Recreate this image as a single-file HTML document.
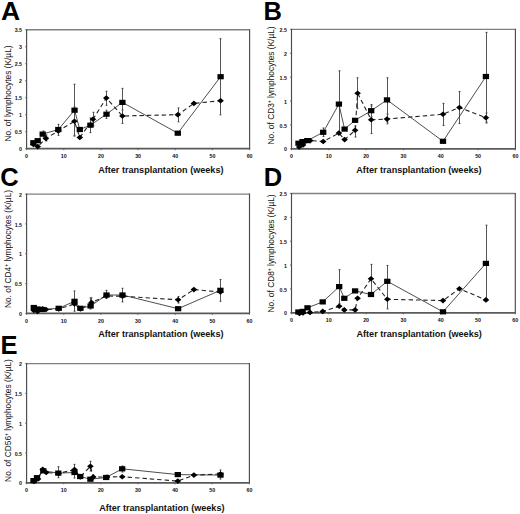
<!DOCTYPE html><html><head><meta charset="utf-8"><style>html,body{margin:0;padding:0;background:#fff;}svg{display:block;}text{font-family:"Liberation Sans", sans-serif;}</style></head><body>
<svg width="520" height="514" viewBox="0 0 520 514">
<rect width="520" height="514" fill="#fff"/>
<line x1="26.6" y1="29.8" x2="249.6" y2="29.8" stroke="#808080" stroke-width="1.4"/>
<line x1="26.6" y1="29.2" x2="26.6" y2="148.7" stroke="#4a4a4a" stroke-width="1.15"/>
<line x1="249.6" y1="29.2" x2="249.6" y2="148.7" stroke="#4a4a4a" stroke-width="1.15"/>
<line x1="26" y1="148.7" x2="250.2" y2="148.7" stroke="#5a5a5a" stroke-width="1.8"/>
<text x="22" y="151.3" font-size="5.3" font-weight="bold" text-anchor="end" fill="#111">0</text>
<line x1="25.1" y1="148.7" x2="26.6" y2="148.7" stroke="#555" stroke-width="0.8"/>
<text x="22" y="134.31" font-size="5.3" font-weight="bold" text-anchor="end" fill="#111">0.5</text>
<line x1="25.1" y1="131.71" x2="26.6" y2="131.71" stroke="#555" stroke-width="0.8"/>
<text x="22" y="117.33" font-size="5.3" font-weight="bold" text-anchor="end" fill="#111">1</text>
<line x1="25.1" y1="114.73" x2="26.6" y2="114.73" stroke="#555" stroke-width="0.8"/>
<text x="22" y="100.34" font-size="5.3" font-weight="bold" text-anchor="end" fill="#111">1.5</text>
<line x1="25.1" y1="97.74" x2="26.6" y2="97.74" stroke="#555" stroke-width="0.8"/>
<text x="22" y="83.36" font-size="5.3" font-weight="bold" text-anchor="end" fill="#111">2</text>
<line x1="25.1" y1="80.76" x2="26.6" y2="80.76" stroke="#555" stroke-width="0.8"/>
<text x="22" y="66.37" font-size="5.3" font-weight="bold" text-anchor="end" fill="#111">2.5</text>
<line x1="25.1" y1="63.77" x2="26.6" y2="63.77" stroke="#555" stroke-width="0.8"/>
<text x="22" y="49.39" font-size="5.3" font-weight="bold" text-anchor="end" fill="#111">3</text>
<line x1="25.1" y1="46.79" x2="26.6" y2="46.79" stroke="#555" stroke-width="0.8"/>
<text x="22" y="32.4" font-size="5.3" font-weight="bold" text-anchor="end" fill="#111">3.5</text>
<line x1="25.1" y1="29.8" x2="26.6" y2="29.8" stroke="#555" stroke-width="0.8"/>
<text x="26.6" y="157.8" font-size="5.3" font-weight="bold" text-anchor="middle" fill="#111">0</text>
<line x1="26.6" y1="148.7" x2="26.6" y2="150.2" stroke="#555" stroke-width="0.8"/>
<text x="63.77" y="157.8" font-size="5.3" font-weight="bold" text-anchor="middle" fill="#111">10</text>
<line x1="63.77" y1="148.7" x2="63.77" y2="150.2" stroke="#555" stroke-width="0.8"/>
<text x="100.93" y="157.8" font-size="5.3" font-weight="bold" text-anchor="middle" fill="#111">20</text>
<line x1="100.93" y1="148.7" x2="100.93" y2="150.2" stroke="#555" stroke-width="0.8"/>
<text x="138.1" y="157.8" font-size="5.3" font-weight="bold" text-anchor="middle" fill="#111">30</text>
<line x1="138.1" y1="148.7" x2="138.1" y2="150.2" stroke="#555" stroke-width="0.8"/>
<text x="175.27" y="157.8" font-size="5.3" font-weight="bold" text-anchor="middle" fill="#111">40</text>
<line x1="175.27" y1="148.7" x2="175.27" y2="150.2" stroke="#555" stroke-width="0.8"/>
<text x="212.43" y="157.8" font-size="5.3" font-weight="bold" text-anchor="middle" fill="#111">50</text>
<line x1="212.43" y1="148.7" x2="212.43" y2="150.2" stroke="#555" stroke-width="0.8"/>
<text x="249.6" y="157.8" font-size="5.3" font-weight="bold" text-anchor="middle" fill="#111">60</text>
<line x1="249.6" y1="148.7" x2="249.6" y2="150.2" stroke="#555" stroke-width="0.8"/>
<text x="98.2" y="172.8" font-size="9.1" font-weight="bold" fill="#111">After transplantation (weeks)</text>
<text transform="translate(10.6 93.5) rotate(-90)" x="0" y="0" font-size="8.35" text-anchor="middle" fill="#111">No. of lymphocytes (K/µL)</text>
<text transform="translate(1 19.5) scale(1.04 1)" font-size="25.5" font-weight="bold" fill="#000">A</text>
<line x1="58.5" y1="124.4" x2="58.5" y2="135.3" stroke="#555" stroke-width="1"/>
<line x1="57.6" y1="124.4" x2="59.4" y2="124.4" stroke="#444" stroke-width="1.1"/>
<line x1="57.6" y1="135.3" x2="59.4" y2="135.3" stroke="#444" stroke-width="1.1"/>
<line x1="74.5" y1="84.3" x2="74.5" y2="136.1" stroke="#555" stroke-width="1"/>
<line x1="73.6" y1="84.3" x2="75.4" y2="84.3" stroke="#444" stroke-width="1.1"/>
<line x1="73.6" y1="136.1" x2="75.4" y2="136.1" stroke="#444" stroke-width="1.1"/>
<line x1="74.5" y1="107" x2="74.5" y2="135.3" stroke="#555" stroke-width="1"/>
<line x1="73.6" y1="107" x2="75.4" y2="107" stroke="#444" stroke-width="1.1"/>
<line x1="73.6" y1="135.3" x2="75.4" y2="135.3" stroke="#444" stroke-width="1.1"/>
<line x1="90.5" y1="118" x2="90.5" y2="132.6" stroke="#555" stroke-width="1"/>
<line x1="89.6" y1="118" x2="91.4" y2="118" stroke="#444" stroke-width="1.1"/>
<line x1="89.6" y1="132.6" x2="91.4" y2="132.6" stroke="#444" stroke-width="1.1"/>
<line x1="93.5" y1="112.3" x2="93.5" y2="126" stroke="#555" stroke-width="1"/>
<line x1="92.6" y1="112.3" x2="94.4" y2="112.3" stroke="#444" stroke-width="1.1"/>
<line x1="92.6" y1="126" x2="94.4" y2="126" stroke="#444" stroke-width="1.1"/>
<line x1="106.5" y1="91.3" x2="106.5" y2="105.3" stroke="#555" stroke-width="1"/>
<line x1="105.6" y1="91.3" x2="107.4" y2="91.3" stroke="#444" stroke-width="1.1"/>
<line x1="105.6" y1="105.3" x2="107.4" y2="105.3" stroke="#444" stroke-width="1.1"/>
<line x1="106.5" y1="110.2" x2="106.5" y2="118.3" stroke="#555" stroke-width="1"/>
<line x1="105.6" y1="110.2" x2="107.4" y2="110.2" stroke="#444" stroke-width="1.1"/>
<line x1="105.6" y1="118.3" x2="107.4" y2="118.3" stroke="#444" stroke-width="1.1"/>
<line x1="122.5" y1="88.4" x2="122.5" y2="116.4" stroke="#555" stroke-width="1"/>
<line x1="121.6" y1="88.4" x2="123.4" y2="88.4" stroke="#444" stroke-width="1.1"/>
<line x1="121.6" y1="116.4" x2="123.4" y2="116.4" stroke="#444" stroke-width="1.1"/>
<line x1="122.5" y1="110" x2="122.5" y2="123.4" stroke="#555" stroke-width="1"/>
<line x1="121.6" y1="110" x2="123.4" y2="110" stroke="#444" stroke-width="1.1"/>
<line x1="121.6" y1="123.4" x2="123.4" y2="123.4" stroke="#444" stroke-width="1.1"/>
<line x1="178.5" y1="108" x2="178.5" y2="121.8" stroke="#555" stroke-width="1"/>
<line x1="177.6" y1="108" x2="179.4" y2="108" stroke="#444" stroke-width="1.1"/>
<line x1="177.6" y1="121.8" x2="179.4" y2="121.8" stroke="#444" stroke-width="1.1"/>
<line x1="220.5" y1="38.7" x2="220.5" y2="114.8" stroke="#555" stroke-width="1"/>
<line x1="219.6" y1="38.7" x2="221.4" y2="38.7" stroke="#444" stroke-width="1.1"/>
<line x1="219.6" y1="114.8" x2="221.4" y2="114.8" stroke="#444" stroke-width="1.1"/>
<line x1="43.5" y1="131" x2="43.5" y2="137" stroke="#555" stroke-width="1"/>
<line x1="42.6" y1="131" x2="44.4" y2="131" stroke="#444" stroke-width="1.1"/>
<line x1="42.6" y1="137" x2="44.4" y2="137" stroke="#444" stroke-width="1.1"/>
<line x1="46.5" y1="135" x2="46.5" y2="141" stroke="#555" stroke-width="1"/>
<line x1="45.6" y1="135" x2="47.4" y2="135" stroke="#444" stroke-width="1.1"/>
<line x1="45.6" y1="141" x2="47.4" y2="141" stroke="#444" stroke-width="1.1"/>
<polyline points="33.4,142.7 37.7,140.7 42.7,134.1 58.3,129.5 74.55,110.2 79.8,129.5 90.4,125.2 106.5,114.2 122.4,102.4 177.8,133.2 220.6,76.7" fill="none" stroke="#3a3a3a" stroke-width="0.9"/>
<polyline points="33.4,144.5 37.7,146.6 45.8,138.4 58.3,131 74.4,121.3 79.8,137.4 93,119.3 106.3,98 122.4,116 177.8,114.7 193.9,103.4 220.6,100.7" fill="none" stroke="#222" stroke-width="1.1" stroke-dasharray="4.4 3"/>
<path d="M33.4 141.7L36.7 144.5L33.4 147.3L30.1 144.5Z" fill="#000"/>
<path d="M37.7 143.8L41 146.6L37.7 149.4L34.4 146.6Z" fill="#000"/>
<path d="M45.8 135.6L49.1 138.4L45.8 141.2L42.5 138.4Z" fill="#000"/>
<path d="M58.3 128.2L61.6 131L58.3 133.8L55 131Z" fill="#000"/>
<path d="M74.4 118.5L77.7 121.3L74.4 124.1L71.1 121.3Z" fill="#000"/>
<path d="M79.8 134.6L83.1 137.4L79.8 140.2L76.5 137.4Z" fill="#000"/>
<path d="M93 116.5L96.3 119.3L93 122.1L89.7 119.3Z" fill="#000"/>
<path d="M106.3 95.2L109.6 98L106.3 100.8L103 98Z" fill="#000"/>
<path d="M122.4 113.2L125.7 116L122.4 118.8L119.1 116Z" fill="#000"/>
<path d="M177.8 111.9L181.1 114.7L177.8 117.5L174.5 114.7Z" fill="#000"/>
<path d="M193.9 100.6L197.2 103.4L193.9 106.2L190.6 103.4Z" fill="#000"/>
<path d="M220.6 97.9L223.9 100.7L220.6 103.5L217.3 100.7Z" fill="#000"/>
<rect x="30.25" y="140.1" width="6.3" height="5.2" fill="#000"/>
<rect x="34.55" y="138.1" width="6.3" height="5.2" fill="#000"/>
<rect x="39.55" y="131.5" width="6.3" height="5.2" fill="#000"/>
<rect x="55.15" y="126.9" width="6.3" height="5.2" fill="#000"/>
<rect x="71.4" y="107.6" width="6.3" height="5.2" fill="#000"/>
<rect x="76.65" y="126.9" width="6.3" height="5.2" fill="#000"/>
<rect x="87.25" y="122.6" width="6.3" height="5.2" fill="#000"/>
<rect x="103.35" y="111.6" width="6.3" height="5.2" fill="#000"/>
<rect x="119.25" y="99.8" width="6.3" height="5.2" fill="#000"/>
<rect x="174.65" y="130.6" width="6.3" height="5.2" fill="#000"/>
<rect x="217.45" y="74.1" width="6.3" height="5.2" fill="#000"/>
<line x1="291.5" y1="29.4" x2="515.4" y2="29.4" stroke="#808080" stroke-width="1.4"/>
<line x1="291.5" y1="28.8" x2="291.5" y2="148.8" stroke="#4a4a4a" stroke-width="1.15"/>
<line x1="515.4" y1="28.8" x2="515.4" y2="148.8" stroke="#4a4a4a" stroke-width="1.15"/>
<line x1="290.9" y1="148.8" x2="516" y2="148.8" stroke="#5a5a5a" stroke-width="1.8"/>
<text x="286.9" y="151.4" font-size="5.3" font-weight="bold" text-anchor="end" fill="#111">0</text>
<line x1="290" y1="148.8" x2="291.5" y2="148.8" stroke="#555" stroke-width="0.8"/>
<text x="286.9" y="127.52" font-size="5.3" font-weight="bold" text-anchor="end" fill="#111">0.5</text>
<line x1="290" y1="124.92" x2="291.5" y2="124.92" stroke="#555" stroke-width="0.8"/>
<text x="286.9" y="103.64" font-size="5.3" font-weight="bold" text-anchor="end" fill="#111">1</text>
<line x1="290" y1="101.04" x2="291.5" y2="101.04" stroke="#555" stroke-width="0.8"/>
<text x="286.9" y="79.76" font-size="5.3" font-weight="bold" text-anchor="end" fill="#111">1.5</text>
<line x1="290" y1="77.16" x2="291.5" y2="77.16" stroke="#555" stroke-width="0.8"/>
<text x="286.9" y="55.88" font-size="5.3" font-weight="bold" text-anchor="end" fill="#111">2</text>
<line x1="290" y1="53.28" x2="291.5" y2="53.28" stroke="#555" stroke-width="0.8"/>
<text x="286.9" y="32" font-size="5.3" font-weight="bold" text-anchor="end" fill="#111">2.5</text>
<line x1="290" y1="29.4" x2="291.5" y2="29.4" stroke="#555" stroke-width="0.8"/>
<text x="291.5" y="157.9" font-size="5.3" font-weight="bold" text-anchor="middle" fill="#111">0</text>
<line x1="291.5" y1="148.8" x2="291.5" y2="150.3" stroke="#555" stroke-width="0.8"/>
<text x="328.82" y="157.9" font-size="5.3" font-weight="bold" text-anchor="middle" fill="#111">10</text>
<line x1="328.82" y1="148.8" x2="328.82" y2="150.3" stroke="#555" stroke-width="0.8"/>
<text x="366.13" y="157.9" font-size="5.3" font-weight="bold" text-anchor="middle" fill="#111">20</text>
<line x1="366.13" y1="148.8" x2="366.13" y2="150.3" stroke="#555" stroke-width="0.8"/>
<text x="403.45" y="157.9" font-size="5.3" font-weight="bold" text-anchor="middle" fill="#111">30</text>
<line x1="403.45" y1="148.8" x2="403.45" y2="150.3" stroke="#555" stroke-width="0.8"/>
<text x="440.77" y="157.9" font-size="5.3" font-weight="bold" text-anchor="middle" fill="#111">40</text>
<line x1="440.77" y1="148.8" x2="440.77" y2="150.3" stroke="#555" stroke-width="0.8"/>
<text x="478.08" y="157.9" font-size="5.3" font-weight="bold" text-anchor="middle" fill="#111">50</text>
<line x1="478.08" y1="148.8" x2="478.08" y2="150.3" stroke="#555" stroke-width="0.8"/>
<text x="515.4" y="157.9" font-size="5.3" font-weight="bold" text-anchor="middle" fill="#111">60</text>
<line x1="515.4" y1="148.8" x2="515.4" y2="150.3" stroke="#555" stroke-width="0.8"/>
<text x="356.3" y="172.8" font-size="9.1" font-weight="bold" fill="#111">After transplantation (weeks)</text>
<text transform="translate(273.6 85.4) rotate(-90)" x="0" y="0" font-size="8.35" text-anchor="middle" fill="#111">No. of CD3<tspan font-size="5" dy="-3">+</tspan><tspan dy="3"> lymphocytes (K/µL)</tspan></text>
<text transform="translate(263.5 19.5) scale(1.0 1)" font-size="25.5" font-weight="bold" fill="#000">B</text>
<line x1="323.5" y1="128" x2="323.5" y2="136.5" stroke="#555" stroke-width="1"/>
<line x1="322.6" y1="128" x2="324.4" y2="128" stroke="#444" stroke-width="1.1"/>
<line x1="322.6" y1="136.5" x2="324.4" y2="136.5" stroke="#444" stroke-width="1.1"/>
<line x1="339.5" y1="70.8" x2="339.5" y2="133.5" stroke="#555" stroke-width="1"/>
<line x1="338.6" y1="70.8" x2="340.4" y2="70.8" stroke="#444" stroke-width="1.1"/>
<line x1="338.6" y1="133.5" x2="340.4" y2="133.5" stroke="#444" stroke-width="1.1"/>
<line x1="355.5" y1="126" x2="355.5" y2="137" stroke="#555" stroke-width="1"/>
<line x1="354.6" y1="126" x2="356.4" y2="126" stroke="#444" stroke-width="1.1"/>
<line x1="354.6" y1="137" x2="356.4" y2="137" stroke="#444" stroke-width="1.1"/>
<line x1="357.5" y1="77.8" x2="357.5" y2="108.6" stroke="#555" stroke-width="1"/>
<line x1="356.6" y1="77.8" x2="358.4" y2="77.8" stroke="#444" stroke-width="1.1"/>
<line x1="356.6" y1="108.6" x2="358.4" y2="108.6" stroke="#444" stroke-width="1.1"/>
<line x1="371.5" y1="104.6" x2="371.5" y2="116.8" stroke="#555" stroke-width="1"/>
<line x1="370.6" y1="104.6" x2="372.4" y2="104.6" stroke="#444" stroke-width="1.1"/>
<line x1="370.6" y1="116.8" x2="372.4" y2="116.8" stroke="#444" stroke-width="1.1"/>
<line x1="371.5" y1="106" x2="371.5" y2="133.5" stroke="#555" stroke-width="1"/>
<line x1="370.6" y1="106" x2="372.4" y2="106" stroke="#444" stroke-width="1.1"/>
<line x1="370.6" y1="133.5" x2="372.4" y2="133.5" stroke="#444" stroke-width="1.1"/>
<line x1="387.5" y1="77.8" x2="387.5" y2="122" stroke="#555" stroke-width="1"/>
<line x1="386.6" y1="77.8" x2="388.4" y2="77.8" stroke="#444" stroke-width="1.1"/>
<line x1="386.6" y1="122" x2="388.4" y2="122" stroke="#444" stroke-width="1.1"/>
<line x1="387.5" y1="114" x2="387.5" y2="123.8" stroke="#555" stroke-width="1"/>
<line x1="386.6" y1="114" x2="388.4" y2="114" stroke="#444" stroke-width="1.1"/>
<line x1="386.6" y1="123.8" x2="388.4" y2="123.8" stroke="#444" stroke-width="1.1"/>
<line x1="443.5" y1="103.4" x2="443.5" y2="125.4" stroke="#555" stroke-width="1"/>
<line x1="442.6" y1="103.4" x2="444.4" y2="103.4" stroke="#444" stroke-width="1.1"/>
<line x1="442.6" y1="125.4" x2="444.4" y2="125.4" stroke="#444" stroke-width="1.1"/>
<line x1="459.5" y1="91.5" x2="459.5" y2="123.5" stroke="#555" stroke-width="1"/>
<line x1="458.6" y1="91.5" x2="460.4" y2="91.5" stroke="#444" stroke-width="1.1"/>
<line x1="458.6" y1="123.5" x2="460.4" y2="123.5" stroke="#444" stroke-width="1.1"/>
<line x1="486.5" y1="32.4" x2="486.5" y2="123" stroke="#555" stroke-width="1"/>
<line x1="485.6" y1="32.4" x2="487.4" y2="32.4" stroke="#444" stroke-width="1.1"/>
<line x1="485.6" y1="123" x2="487.4" y2="123" stroke="#444" stroke-width="1.1"/>
<line x1="486.5" y1="113" x2="486.5" y2="122" stroke="#555" stroke-width="1"/>
<line x1="485.6" y1="113" x2="487.4" y2="113" stroke="#444" stroke-width="1.1"/>
<line x1="485.6" y1="122" x2="487.4" y2="122" stroke="#444" stroke-width="1.1"/>
<polyline points="298.5,143.2 302.5,141.6 307.3,140.6 323.2,132.3 338.9,104.1 344.6,129.1 355.1,120.3 371.2,110.7 387,99.9 443,141.3 485.9,76.5" fill="none" stroke="#3a3a3a" stroke-width="0.9"/>
<polyline points="299.2,147 303,145 310.2,140.6 323.2,141.5 338.9,133.1 344.6,139.6 355.1,130.3 357.6,93.2 371.2,119.8 387,119.1 443,114.2 459.4,107.5 485.9,117.7" fill="none" stroke="#222" stroke-width="1.1" stroke-dasharray="4.4 3"/>
<path d="M299.2 144.2L302.5 147L299.2 149.8L295.9 147Z" fill="#000"/>
<path d="M303 142.2L306.3 145L303 147.8L299.7 145Z" fill="#000"/>
<path d="M310.2 137.8L313.5 140.6L310.2 143.4L306.9 140.6Z" fill="#000"/>
<path d="M323.2 138.7L326.5 141.5L323.2 144.3L319.9 141.5Z" fill="#000"/>
<path d="M338.9 130.3L342.2 133.1L338.9 135.9L335.6 133.1Z" fill="#000"/>
<path d="M344.6 136.8L347.9 139.6L344.6 142.4L341.3 139.6Z" fill="#000"/>
<path d="M355.1 127.5L358.4 130.3L355.1 133.1L351.8 130.3Z" fill="#000"/>
<path d="M357.6 90.4L360.9 93.2L357.6 96L354.3 93.2Z" fill="#000"/>
<path d="M371.2 117L374.5 119.8L371.2 122.6L367.9 119.8Z" fill="#000"/>
<path d="M387 116.3L390.3 119.1L387 121.9L383.7 119.1Z" fill="#000"/>
<path d="M443 111.4L446.3 114.2L443 117L439.7 114.2Z" fill="#000"/>
<path d="M459.4 104.7L462.7 107.5L459.4 110.3L456.1 107.5Z" fill="#000"/>
<path d="M485.9 114.9L489.2 117.7L485.9 120.5L482.6 117.7Z" fill="#000"/>
<rect x="295.35" y="140.6" width="6.3" height="5.2" fill="#000"/>
<rect x="299.35" y="139" width="6.3" height="5.2" fill="#000"/>
<rect x="304.15" y="138" width="6.3" height="5.2" fill="#000"/>
<rect x="320.05" y="129.7" width="6.3" height="5.2" fill="#000"/>
<rect x="335.75" y="101.5" width="6.3" height="5.2" fill="#000"/>
<rect x="341.45" y="126.5" width="6.3" height="5.2" fill="#000"/>
<rect x="351.95" y="117.7" width="6.3" height="5.2" fill="#000"/>
<rect x="368.05" y="108.1" width="6.3" height="5.2" fill="#000"/>
<rect x="383.85" y="97.3" width="6.3" height="5.2" fill="#000"/>
<rect x="439.85" y="138.7" width="6.3" height="5.2" fill="#000"/>
<rect x="482.75" y="73.9" width="6.3" height="5.2" fill="#000"/>
<line x1="26.6" y1="194.1" x2="249.5" y2="194.1" stroke="#808080" stroke-width="1.4"/>
<line x1="26.6" y1="193.5" x2="26.6" y2="313.4" stroke="#4a4a4a" stroke-width="1.15"/>
<line x1="249.5" y1="193.5" x2="249.5" y2="313.4" stroke="#4a4a4a" stroke-width="1.15"/>
<line x1="26" y1="313.4" x2="250.1" y2="313.4" stroke="#5a5a5a" stroke-width="1.8"/>
<text x="22" y="316" font-size="5.3" font-weight="bold" text-anchor="end" fill="#111">0</text>
<line x1="25.1" y1="313.4" x2="26.6" y2="313.4" stroke="#555" stroke-width="0.8"/>
<text x="22" y="286.18" font-size="5.3" font-weight="bold" text-anchor="end" fill="#111">0.5</text>
<line x1="25.1" y1="283.57" x2="26.6" y2="283.57" stroke="#555" stroke-width="0.8"/>
<text x="22" y="256.35" font-size="5.3" font-weight="bold" text-anchor="end" fill="#111">1</text>
<line x1="25.1" y1="253.75" x2="26.6" y2="253.75" stroke="#555" stroke-width="0.8"/>
<text x="22" y="226.52" font-size="5.3" font-weight="bold" text-anchor="end" fill="#111">1.5</text>
<line x1="25.1" y1="223.92" x2="26.6" y2="223.92" stroke="#555" stroke-width="0.8"/>
<text x="22" y="196.7" font-size="5.3" font-weight="bold" text-anchor="end" fill="#111">2</text>
<line x1="25.1" y1="194.1" x2="26.6" y2="194.1" stroke="#555" stroke-width="0.8"/>
<text x="26.6" y="322.5" font-size="5.3" font-weight="bold" text-anchor="middle" fill="#111">0</text>
<line x1="26.6" y1="313.4" x2="26.6" y2="314.9" stroke="#555" stroke-width="0.8"/>
<text x="63.75" y="322.5" font-size="5.3" font-weight="bold" text-anchor="middle" fill="#111">10</text>
<line x1="63.75" y1="313.4" x2="63.75" y2="314.9" stroke="#555" stroke-width="0.8"/>
<text x="100.9" y="322.5" font-size="5.3" font-weight="bold" text-anchor="middle" fill="#111">20</text>
<line x1="100.9" y1="313.4" x2="100.9" y2="314.9" stroke="#555" stroke-width="0.8"/>
<text x="138.05" y="322.5" font-size="5.3" font-weight="bold" text-anchor="middle" fill="#111">30</text>
<line x1="138.05" y1="313.4" x2="138.05" y2="314.9" stroke="#555" stroke-width="0.8"/>
<text x="175.2" y="322.5" font-size="5.3" font-weight="bold" text-anchor="middle" fill="#111">40</text>
<line x1="175.2" y1="313.4" x2="175.2" y2="314.9" stroke="#555" stroke-width="0.8"/>
<text x="212.35" y="322.5" font-size="5.3" font-weight="bold" text-anchor="middle" fill="#111">50</text>
<line x1="212.35" y1="313.4" x2="212.35" y2="314.9" stroke="#555" stroke-width="0.8"/>
<text x="249.5" y="322.5" font-size="5.3" font-weight="bold" text-anchor="middle" fill="#111">60</text>
<line x1="249.5" y1="313.4" x2="249.5" y2="314.9" stroke="#555" stroke-width="0.8"/>
<text x="98.2" y="337" font-size="9.1" font-weight="bold" fill="#111">After transplantation (weeks)</text>
<text transform="translate(11 249) rotate(-90)" x="0" y="0" font-size="8.35" text-anchor="middle" fill="#111">No. of CD4<tspan font-size="5" dy="-3">+</tspan><tspan dy="3"> lymphocytes (K/µL)</tspan></text>
<text transform="translate(0.2 186) scale(1.0 1)" font-size="25.5" font-weight="bold" fill="#000">C</text>
<line x1="74.5" y1="291" x2="74.5" y2="311.2" stroke="#555" stroke-width="1"/>
<line x1="73.6" y1="291" x2="75.4" y2="291" stroke="#444" stroke-width="1.1"/>
<line x1="73.6" y1="311.2" x2="75.4" y2="311.2" stroke="#444" stroke-width="1.1"/>
<line x1="91.5" y1="297.9" x2="91.5" y2="306" stroke="#555" stroke-width="1"/>
<line x1="90.6" y1="297.9" x2="92.4" y2="297.9" stroke="#444" stroke-width="1.1"/>
<line x1="90.6" y1="306" x2="92.4" y2="306" stroke="#444" stroke-width="1.1"/>
<line x1="90.5" y1="298" x2="90.5" y2="309" stroke="#555" stroke-width="1"/>
<line x1="89.6" y1="298" x2="91.4" y2="298" stroke="#444" stroke-width="1.1"/>
<line x1="89.6" y1="309" x2="91.4" y2="309" stroke="#444" stroke-width="1.1"/>
<line x1="106.5" y1="290.4" x2="106.5" y2="298.5" stroke="#555" stroke-width="1"/>
<line x1="105.6" y1="290.4" x2="107.4" y2="290.4" stroke="#444" stroke-width="1.1"/>
<line x1="105.6" y1="298.5" x2="107.4" y2="298.5" stroke="#444" stroke-width="1.1"/>
<line x1="122.5" y1="288.3" x2="122.5" y2="301.9" stroke="#555" stroke-width="1"/>
<line x1="121.6" y1="288.3" x2="123.4" y2="288.3" stroke="#444" stroke-width="1.1"/>
<line x1="121.6" y1="301.9" x2="123.4" y2="301.9" stroke="#444" stroke-width="1.1"/>
<line x1="178.5" y1="296.5" x2="178.5" y2="303" stroke="#555" stroke-width="1"/>
<line x1="177.6" y1="296.5" x2="179.4" y2="296.5" stroke="#444" stroke-width="1.1"/>
<line x1="177.6" y1="303" x2="179.4" y2="303" stroke="#444" stroke-width="1.1"/>
<line x1="220.5" y1="279.5" x2="220.5" y2="301.3" stroke="#555" stroke-width="1"/>
<line x1="219.6" y1="279.5" x2="221.4" y2="279.5" stroke="#444" stroke-width="1.1"/>
<line x1="219.6" y1="301.3" x2="221.4" y2="301.3" stroke="#444" stroke-width="1.1"/>
<polyline points="33.8,307.5 37.5,309 42.2,309.5 58.7,308.3 74.5,301.3 80.4,308.3 90.6,306 106.5,295 122.5,295 178.1,308.7 220.4,290.3" fill="none" stroke="#3a3a3a" stroke-width="0.9"/>
<polyline points="33.8,310.5 37.5,311.5 42.7,308.8 46,309.5 58.7,309 74.5,304 80.4,309 91.5,302.5 106.5,296 122.5,296.2 178.1,299.8 193.9,289.6 220.4,292" fill="none" stroke="#222" stroke-width="1.1" stroke-dasharray="4.4 3"/>
<path d="M33.8 307.7L37.1 310.5L33.8 313.3L30.5 310.5Z" fill="#000"/>
<path d="M37.5 308.7L40.8 311.5L37.5 314.3L34.2 311.5Z" fill="#000"/>
<path d="M42.7 306L46 308.8L42.7 311.6L39.4 308.8Z" fill="#000"/>
<path d="M46 306.7L49.3 309.5L46 312.3L42.7 309.5Z" fill="#000"/>
<path d="M58.7 306.2L62 309L58.7 311.8L55.4 309Z" fill="#000"/>
<path d="M74.5 301.2L77.8 304L74.5 306.8L71.2 304Z" fill="#000"/>
<path d="M80.4 306.2L83.7 309L80.4 311.8L77.1 309Z" fill="#000"/>
<path d="M91.5 299.7L94.8 302.5L91.5 305.3L88.2 302.5Z" fill="#000"/>
<path d="M106.5 293.2L109.8 296L106.5 298.8L103.2 296Z" fill="#000"/>
<path d="M122.5 293.4L125.8 296.2L122.5 299L119.2 296.2Z" fill="#000"/>
<path d="M178.1 297L181.4 299.8L178.1 302.6L174.8 299.8Z" fill="#000"/>
<path d="M193.9 286.8L197.2 289.6L193.9 292.4L190.6 289.6Z" fill="#000"/>
<path d="M220.4 289.2L223.7 292L220.4 294.8L217.1 292Z" fill="#000"/>
<rect x="30.65" y="304.9" width="6.3" height="5.2" fill="#000"/>
<rect x="34.35" y="306.4" width="6.3" height="5.2" fill="#000"/>
<rect x="39.05" y="306.9" width="6.3" height="5.2" fill="#000"/>
<rect x="55.55" y="305.7" width="6.3" height="5.2" fill="#000"/>
<rect x="71.35" y="298.7" width="6.3" height="5.2" fill="#000"/>
<rect x="77.25" y="305.7" width="6.3" height="5.2" fill="#000"/>
<rect x="87.45" y="303.4" width="6.3" height="5.2" fill="#000"/>
<rect x="103.35" y="292.4" width="6.3" height="5.2" fill="#000"/>
<rect x="119.35" y="292.4" width="6.3" height="5.2" fill="#000"/>
<rect x="174.95" y="306.1" width="6.3" height="5.2" fill="#000"/>
<rect x="217.25" y="287.7" width="6.3" height="5.2" fill="#000"/>
<line x1="291.5" y1="193.5" x2="515.3" y2="193.5" stroke="#808080" stroke-width="1.4"/>
<line x1="291.5" y1="192.9" x2="291.5" y2="312.8" stroke="#4a4a4a" stroke-width="1.15"/>
<line x1="515.3" y1="192.9" x2="515.3" y2="312.8" stroke="#4a4a4a" stroke-width="1.15"/>
<line x1="290.9" y1="312.8" x2="515.9" y2="312.8" stroke="#5a5a5a" stroke-width="1.8"/>
<text x="286.9" y="315.4" font-size="5.3" font-weight="bold" text-anchor="end" fill="#111">0</text>
<line x1="290" y1="312.8" x2="291.5" y2="312.8" stroke="#555" stroke-width="0.8"/>
<text x="286.9" y="291.54" font-size="5.3" font-weight="bold" text-anchor="end" fill="#111">0.5</text>
<line x1="290" y1="288.94" x2="291.5" y2="288.94" stroke="#555" stroke-width="0.8"/>
<text x="286.9" y="267.68" font-size="5.3" font-weight="bold" text-anchor="end" fill="#111">1</text>
<line x1="290" y1="265.08" x2="291.5" y2="265.08" stroke="#555" stroke-width="0.8"/>
<text x="286.9" y="243.82" font-size="5.3" font-weight="bold" text-anchor="end" fill="#111">1.5</text>
<line x1="290" y1="241.22" x2="291.5" y2="241.22" stroke="#555" stroke-width="0.8"/>
<text x="286.9" y="219.96" font-size="5.3" font-weight="bold" text-anchor="end" fill="#111">2</text>
<line x1="290" y1="217.36" x2="291.5" y2="217.36" stroke="#555" stroke-width="0.8"/>
<text x="286.9" y="196.1" font-size="5.3" font-weight="bold" text-anchor="end" fill="#111">2.5</text>
<line x1="290" y1="193.5" x2="291.5" y2="193.5" stroke="#555" stroke-width="0.8"/>
<text x="291.5" y="321.9" font-size="5.3" font-weight="bold" text-anchor="middle" fill="#111">0</text>
<line x1="291.5" y1="312.8" x2="291.5" y2="314.3" stroke="#555" stroke-width="0.8"/>
<text x="328.8" y="321.9" font-size="5.3" font-weight="bold" text-anchor="middle" fill="#111">10</text>
<line x1="328.8" y1="312.8" x2="328.8" y2="314.3" stroke="#555" stroke-width="0.8"/>
<text x="366.1" y="321.9" font-size="5.3" font-weight="bold" text-anchor="middle" fill="#111">20</text>
<line x1="366.1" y1="312.8" x2="366.1" y2="314.3" stroke="#555" stroke-width="0.8"/>
<text x="403.4" y="321.9" font-size="5.3" font-weight="bold" text-anchor="middle" fill="#111">30</text>
<line x1="403.4" y1="312.8" x2="403.4" y2="314.3" stroke="#555" stroke-width="0.8"/>
<text x="440.7" y="321.9" font-size="5.3" font-weight="bold" text-anchor="middle" fill="#111">40</text>
<line x1="440.7" y1="312.8" x2="440.7" y2="314.3" stroke="#555" stroke-width="0.8"/>
<text x="478" y="321.9" font-size="5.3" font-weight="bold" text-anchor="middle" fill="#111">50</text>
<line x1="478" y1="312.8" x2="478" y2="314.3" stroke="#555" stroke-width="0.8"/>
<text x="515.3" y="321.9" font-size="5.3" font-weight="bold" text-anchor="middle" fill="#111">60</text>
<line x1="515.3" y1="312.8" x2="515.3" y2="314.3" stroke="#555" stroke-width="0.8"/>
<text x="356.5" y="337" font-size="9.1" font-weight="bold" fill="#111">After transplantation (weeks)</text>
<text transform="translate(273.9 253.4) rotate(-90)" x="0" y="0" font-size="8.35" text-anchor="middle" fill="#111">No. of CD8<tspan font-size="5" dy="-3">+</tspan><tspan dy="3"> lymphocytes (K/µL)</tspan></text>
<text transform="translate(263.8 186.1) scale(1.0 1)" font-size="25.5" font-weight="bold" fill="#000">D</text>
<line x1="339.5" y1="269.7" x2="339.5" y2="303.5" stroke="#555" stroke-width="1"/>
<line x1="338.6" y1="269.7" x2="340.4" y2="269.7" stroke="#444" stroke-width="1.1"/>
<line x1="338.6" y1="303.5" x2="340.4" y2="303.5" stroke="#444" stroke-width="1.1"/>
<line x1="371.5" y1="264.4" x2="371.5" y2="293" stroke="#555" stroke-width="1"/>
<line x1="370.6" y1="264.4" x2="372.4" y2="264.4" stroke="#444" stroke-width="1.1"/>
<line x1="370.6" y1="293" x2="372.4" y2="293" stroke="#444" stroke-width="1.1"/>
<line x1="387.5" y1="265.5" x2="387.5" y2="308.8" stroke="#555" stroke-width="1"/>
<line x1="386.6" y1="265.5" x2="388.4" y2="265.5" stroke="#444" stroke-width="1.1"/>
<line x1="386.6" y1="308.8" x2="388.4" y2="308.8" stroke="#444" stroke-width="1.1"/>
<line x1="486.5" y1="225.2" x2="486.5" y2="298.7" stroke="#555" stroke-width="1"/>
<line x1="485.6" y1="225.2" x2="487.4" y2="225.2" stroke="#444" stroke-width="1.1"/>
<line x1="485.6" y1="298.7" x2="487.4" y2="298.7" stroke="#444" stroke-width="1.1"/>
<polyline points="298.4,312 302.6,311.4 307.5,307.8 322.7,301.9 339.2,286.6 344.3,298.3 355.1,290.9 371,294.5 387.3,281.3 443,311.8 485.9,263.4" fill="none" stroke="#3a3a3a" stroke-width="0.9"/>
<polyline points="299.5,313.5 303,313 310,312.4 322.7,311.4 339.2,306.3 344.3,309.9 355.1,309.9 357.6,298.3 371,278.8 387.3,299.3 443,300.6 459.4,288.7 485.9,299.9" fill="none" stroke="#222" stroke-width="1.1" stroke-dasharray="4.4 3"/>
<path d="M299.5 310.7L302.8 313.5L299.5 316.3L296.2 313.5Z" fill="#000"/>
<path d="M303 310.2L306.3 313L303 315.8L299.7 313Z" fill="#000"/>
<path d="M310 309.6L313.3 312.4L310 315.2L306.7 312.4Z" fill="#000"/>
<path d="M322.7 308.6L326 311.4L322.7 314.2L319.4 311.4Z" fill="#000"/>
<path d="M339.2 303.5L342.5 306.3L339.2 309.1L335.9 306.3Z" fill="#000"/>
<path d="M344.3 307.1L347.6 309.9L344.3 312.7L341 309.9Z" fill="#000"/>
<path d="M355.1 307.1L358.4 309.9L355.1 312.7L351.8 309.9Z" fill="#000"/>
<path d="M357.6 295.5L360.9 298.3L357.6 301.1L354.3 298.3Z" fill="#000"/>
<path d="M371 276L374.3 278.8L371 281.6L367.7 278.8Z" fill="#000"/>
<path d="M387.3 296.5L390.6 299.3L387.3 302.1L384 299.3Z" fill="#000"/>
<path d="M443 297.8L446.3 300.6L443 303.4L439.7 300.6Z" fill="#000"/>
<path d="M459.4 285.9L462.7 288.7L459.4 291.5L456.1 288.7Z" fill="#000"/>
<path d="M485.9 297.1L489.2 299.9L485.9 302.7L482.6 299.9Z" fill="#000"/>
<rect x="295.25" y="309.4" width="6.3" height="5.2" fill="#000"/>
<rect x="299.45" y="308.8" width="6.3" height="5.2" fill="#000"/>
<rect x="304.35" y="305.2" width="6.3" height="5.2" fill="#000"/>
<rect x="319.55" y="299.3" width="6.3" height="5.2" fill="#000"/>
<rect x="336.05" y="284" width="6.3" height="5.2" fill="#000"/>
<rect x="341.15" y="295.7" width="6.3" height="5.2" fill="#000"/>
<rect x="351.95" y="288.3" width="6.3" height="5.2" fill="#000"/>
<rect x="367.85" y="291.9" width="6.3" height="5.2" fill="#000"/>
<rect x="384.15" y="278.7" width="6.3" height="5.2" fill="#000"/>
<rect x="439.85" y="309.2" width="6.3" height="5.2" fill="#000"/>
<rect x="482.75" y="260.8" width="6.3" height="5.2" fill="#000"/>
<line x1="26.6" y1="363.6" x2="249.4" y2="363.6" stroke="#808080" stroke-width="1.4"/>
<line x1="26.6" y1="363" x2="26.6" y2="482.8" stroke="#4a4a4a" stroke-width="1.15"/>
<line x1="249.4" y1="363" x2="249.4" y2="482.8" stroke="#4a4a4a" stroke-width="1.15"/>
<line x1="26" y1="482.8" x2="250" y2="482.8" stroke="#5a5a5a" stroke-width="1.8"/>
<text x="22" y="485.4" font-size="5.3" font-weight="bold" text-anchor="end" fill="#111">0</text>
<line x1="25.1" y1="482.8" x2="26.6" y2="482.8" stroke="#555" stroke-width="0.8"/>
<text x="22" y="455.6" font-size="5.3" font-weight="bold" text-anchor="end" fill="#111">0.5</text>
<line x1="25.1" y1="453" x2="26.6" y2="453" stroke="#555" stroke-width="0.8"/>
<text x="22" y="425.8" font-size="5.3" font-weight="bold" text-anchor="end" fill="#111">1</text>
<line x1="25.1" y1="423.2" x2="26.6" y2="423.2" stroke="#555" stroke-width="0.8"/>
<text x="22" y="396" font-size="5.3" font-weight="bold" text-anchor="end" fill="#111">1.5</text>
<line x1="25.1" y1="393.4" x2="26.6" y2="393.4" stroke="#555" stroke-width="0.8"/>
<text x="22" y="366.2" font-size="5.3" font-weight="bold" text-anchor="end" fill="#111">2</text>
<line x1="25.1" y1="363.6" x2="26.6" y2="363.6" stroke="#555" stroke-width="0.8"/>
<text x="26.6" y="491.9" font-size="5.3" font-weight="bold" text-anchor="middle" fill="#111">0</text>
<line x1="26.6" y1="482.8" x2="26.6" y2="484.3" stroke="#555" stroke-width="0.8"/>
<text x="63.73" y="491.9" font-size="5.3" font-weight="bold" text-anchor="middle" fill="#111">10</text>
<line x1="63.73" y1="482.8" x2="63.73" y2="484.3" stroke="#555" stroke-width="0.8"/>
<text x="100.87" y="491.9" font-size="5.3" font-weight="bold" text-anchor="middle" fill="#111">20</text>
<line x1="100.87" y1="482.8" x2="100.87" y2="484.3" stroke="#555" stroke-width="0.8"/>
<text x="138" y="491.9" font-size="5.3" font-weight="bold" text-anchor="middle" fill="#111">30</text>
<line x1="138" y1="482.8" x2="138" y2="484.3" stroke="#555" stroke-width="0.8"/>
<text x="175.13" y="491.9" font-size="5.3" font-weight="bold" text-anchor="middle" fill="#111">40</text>
<line x1="175.13" y1="482.8" x2="175.13" y2="484.3" stroke="#555" stroke-width="0.8"/>
<text x="212.27" y="491.9" font-size="5.3" font-weight="bold" text-anchor="middle" fill="#111">50</text>
<line x1="212.27" y1="482.8" x2="212.27" y2="484.3" stroke="#555" stroke-width="0.8"/>
<text x="249.4" y="491.9" font-size="5.3" font-weight="bold" text-anchor="middle" fill="#111">60</text>
<line x1="249.4" y1="482.8" x2="249.4" y2="484.3" stroke="#555" stroke-width="0.8"/>
<text x="99.2" y="510.6" font-size="9.1" font-weight="bold" fill="#111">After transplantation (weeks)</text>
<text transform="translate(10.8 420.5) rotate(-90)" x="0" y="0" font-size="8.35" text-anchor="middle" fill="#111">No. of CD56<tspan font-size="5" dy="-3">+</tspan><tspan dy="3"> lymphocytes (K/µL)</tspan></text>
<text transform="translate(0.4 354) scale(1.0 1)" font-size="25.5" font-weight="bold" fill="#000">E</text>
<line x1="58.5" y1="466.7" x2="58.5" y2="477.7" stroke="#555" stroke-width="1"/>
<line x1="57.6" y1="466.7" x2="59.4" y2="466.7" stroke="#444" stroke-width="1.1"/>
<line x1="57.6" y1="477.7" x2="59.4" y2="477.7" stroke="#444" stroke-width="1.1"/>
<line x1="74.5" y1="464.4" x2="74.5" y2="478" stroke="#555" stroke-width="1"/>
<line x1="73.6" y1="464.4" x2="75.4" y2="464.4" stroke="#444" stroke-width="1.1"/>
<line x1="73.6" y1="478" x2="75.4" y2="478" stroke="#444" stroke-width="1.1"/>
<line x1="90.5" y1="461.3" x2="90.5" y2="471" stroke="#555" stroke-width="1"/>
<line x1="89.6" y1="461.3" x2="91.4" y2="461.3" stroke="#444" stroke-width="1.1"/>
<line x1="89.6" y1="471" x2="91.4" y2="471" stroke="#444" stroke-width="1.1"/>
<line x1="122.5" y1="466" x2="122.5" y2="472" stroke="#555" stroke-width="1"/>
<line x1="121.6" y1="466" x2="123.4" y2="466" stroke="#444" stroke-width="1.1"/>
<line x1="121.6" y1="472" x2="123.4" y2="472" stroke="#444" stroke-width="1.1"/>
<line x1="220.5" y1="470" x2="220.5" y2="479" stroke="#555" stroke-width="1"/>
<line x1="219.6" y1="470" x2="221.4" y2="470" stroke="#444" stroke-width="1.1"/>
<line x1="219.6" y1="479" x2="221.4" y2="479" stroke="#444" stroke-width="1.1"/>
<polyline points="33.5,480.6 37,477.7 43.3,470.8 58.3,473.1 74.5,472.5 80.2,476.5 90.4,479.2 106.2,477.5 122.2,468.8 177.8,474.6 220.5,475.1" fill="none" stroke="#3a3a3a" stroke-width="0.9"/>
<polyline points="34,481.5 38,479 42.7,469.4 46.2,472.5 58.3,473.5 74.5,469.6 80.2,477 90.4,466.3 93.3,476.9 107,477 122.2,476.7 177.8,481.1 193.9,475.1 220.5,474" fill="none" stroke="#222" stroke-width="1.1" stroke-dasharray="4.4 3"/>
<path d="M34 478.7L37.3 481.5L34 484.3L30.7 481.5Z" fill="#000"/>
<path d="M38 476.2L41.3 479L38 481.8L34.7 479Z" fill="#000"/>
<path d="M42.7 466.6L46 469.4L42.7 472.2L39.4 469.4Z" fill="#000"/>
<path d="M46.2 469.7L49.5 472.5L46.2 475.3L42.9 472.5Z" fill="#000"/>
<path d="M58.3 470.7L61.6 473.5L58.3 476.3L55 473.5Z" fill="#000"/>
<path d="M74.5 466.8L77.8 469.6L74.5 472.4L71.2 469.6Z" fill="#000"/>
<path d="M80.2 474.2L83.5 477L80.2 479.8L76.9 477Z" fill="#000"/>
<path d="M90.4 463.5L93.7 466.3L90.4 469.1L87.1 466.3Z" fill="#000"/>
<path d="M93.3 474.1L96.6 476.9L93.3 479.7L90 476.9Z" fill="#000"/>
<path d="M107 474.2L110.3 477L107 479.8L103.7 477Z" fill="#000"/>
<path d="M122.2 473.9L125.5 476.7L122.2 479.5L118.9 476.7Z" fill="#000"/>
<path d="M177.8 478.3L181.1 481.1L177.8 483.9L174.5 481.1Z" fill="#000"/>
<path d="M193.9 472.3L197.2 475.1L193.9 477.9L190.6 475.1Z" fill="#000"/>
<path d="M220.5 471.2L223.8 474L220.5 476.8L217.2 474Z" fill="#000"/>
<rect x="30.35" y="478" width="6.3" height="5.2" fill="#000"/>
<rect x="33.85" y="475.1" width="6.3" height="5.2" fill="#000"/>
<rect x="40.15" y="468.2" width="6.3" height="5.2" fill="#000"/>
<rect x="55.15" y="470.5" width="6.3" height="5.2" fill="#000"/>
<rect x="71.35" y="469.9" width="6.3" height="5.2" fill="#000"/>
<rect x="77.05" y="473.9" width="6.3" height="5.2" fill="#000"/>
<rect x="87.25" y="476.6" width="6.3" height="5.2" fill="#000"/>
<rect x="103.05" y="474.9" width="6.3" height="5.2" fill="#000"/>
<rect x="119.05" y="466.2" width="6.3" height="5.2" fill="#000"/>
<rect x="174.65" y="472" width="6.3" height="5.2" fill="#000"/>
<rect x="217.35" y="472.5" width="6.3" height="5.2" fill="#000"/>
</svg></body></html>
